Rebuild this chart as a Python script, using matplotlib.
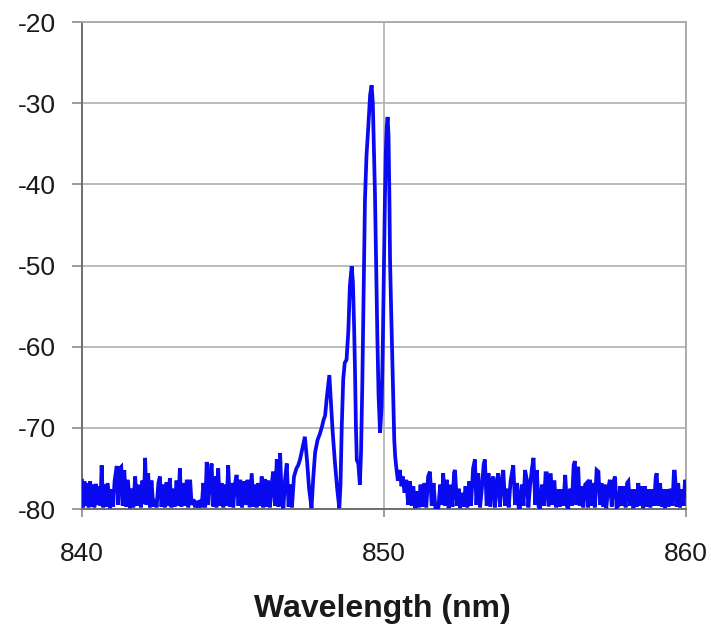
import matplotlib
matplotlib.use("Agg")
import matplotlib.pyplot as plt

# ---- data ----
# noise floor left of the emission lines
left_wl = [
    840.00, 840.04, 840.08, 840.13, 840.18, 840.22, 840.27, 840.32, 840.36, 840.41,
    840.46, 840.51, 840.56, 840.61, 840.65, 840.70, 840.75, 840.80, 840.85, 840.93,
    840.98, 841.03, 841.08, 841.15, 841.20, 841.25, 841.30, 841.35, 841.40, 841.46,
    841.52, 841.59, 841.64, 841.70, 841.76, 841.82, 841.88, 841.95, 842.00, 842.05,
    842.09, 842.14, 842.19, 842.25, 842.30, 842.36, 842.42, 842.47, 842.53, 842.58,
    842.63, 842.69, 842.74, 842.80, 842.85, 842.91, 842.96, 843.02, 843.07, 843.13,
    843.19, 843.24, 843.29, 843.35, 843.41, 843.47, 843.52, 843.58, 843.63, 843.69,
    843.75, 843.80, 843.86, 843.91, 843.96, 844.02, 844.08, 844.13, 844.18, 844.24,
    844.29, 844.35, 844.40, 844.45, 844.51, 844.56, 844.62, 844.68, 844.73, 844.79,
    844.84, 844.90, 844.95, 845.01, 845.06, 845.12, 845.18, 845.24, 845.30, 845.36,
    845.42, 845.48, 845.55, 845.62, 845.68, 845.72, 845.78, 845.84, 845.90, 845.95,
    846.00, 846.05, 846.10, 846.16, 846.22, 846.28, 846.33, 846.39, 846.45, 846.50,
    846.56, 846.62, 846.67, 846.72, 846.78, 846.84, 846.89, 846.95,
]
left_db = [
    -76.5, -79.8, -76.6, -79.6, -76.8, -79.8, -76.6, -79.7, -77.0, -79.8,
    -76.9, -79.5, -77.2, -79.6, -74.6, -79.8, -77.0, -79.7, -76.8, -79.9,
    -77.6, -79.7, -76.5, -74.7, -79.5, -75.0, -74.8, -79.6, -75.2, -79.7,
    -76.4, -79.9, -77.5, -79.8, -76.0, -79.6, -77.0, -79.8, -76.5, -79.4,
    -73.7, -79.5, -75.6, -79.8, -76.5, -79.7, -78.8, -79.8, -76.8, -76.0,
    -79.7, -77.0, -79.8, -76.7, -79.6, -76.2, -79.8, -77.5, -79.7, -76.5,
    -79.6, -75.0, -79.7, -76.8, -79.6, -76.4, -79.8, -76.4, -79.5, -78.8,
    -79.8, -79.0, -79.8, -78.9, -79.8, -76.8, -79.8, -74.2, -79.5, -76.5,
    -74.4, -79.7, -76.0, -79.8, -75.0, -79.6, -76.8, -79.8, -77.0, -79.6,
    -74.6, -79.7, -76.8, -79.8, -77.0, -75.8, -79.6, -76.4, -79.8, -76.6,
    -79.5, -76.4, -79.8, -75.6, -79.7, -77.0, -79.8, -76.8, -79.6, -76.0,
    -79.8, -76.3, -79.7, -76.5, -79.8, -77.0, -75.4, -79.6, -73.9, -79.7,
    -73.1, -79.5, -79.9, -76.5, -74.4, -79.7, -77.0, -79.8,
]

# emission lines (multimode spectrum)
peak_wl = [
    847.02, 847.10, 847.16, 847.22, 847.30, 847.38, 847.45, 847.52, 847.60, 847.66,
    847.72, 847.80, 847.88, 847.95, 848.00, 848.05, 848.10, 848.16, 848.19, 848.23,
    848.30, 848.38, 848.45, 848.52, 848.56, 848.60, 848.65, 848.70, 848.76, 848.82,
    848.87, 848.93, 848.97, 849.01, 849.04, 849.07, 849.10, 849.15, 849.20, 849.24,
    849.28, 849.33, 849.37, 849.42, 849.48, 849.54, 849.59, 849.63, 849.67, 849.70,
    849.74, 849.78, 849.82, 849.87, 849.92, 849.96, 850.00, 850.03, 850.06, 850.09,
    850.12, 850.15, 850.18, 850.20, 850.24, 850.28, 850.31, 850.34, 850.37,
]
peak_db = [
    -76.0, -75.0, -74.6, -73.9, -72.5, -71.1, -74.0, -77.5, -79.9, -76.0,
    -73.0, -71.5, -70.7, -69.8, -69.0, -68.5, -66.5, -64.5, -63.5, -66.0,
    -70.5, -74.5, -77.5, -79.9, -77.0, -70.0, -64.0, -62.0, -61.6, -58.0,
    -52.5, -50.1, -52.0, -57.5, -63.0, -69.8, -74.0, -74.4, -77.0, -73.0,
    -65.0, -52.0, -41.9, -36.5, -32.9, -29.0, -27.8, -30.0, -36.0, -41.0,
    -50.0, -58.8, -66.0, -70.6, -67.5, -60.0, -50.0, -41.9, -36.0, -32.9,
    -31.7, -34.0, -42.0, -49.3, -56.0, -62.0, -67.0, -71.5, -73.5,
]

# noise floor right of the emission lines
right_wl = [
    850.41, 850.46, 850.52, 850.58, 850.62, 850.68, 850.74, 850.80, 850.86, 850.92,
    850.97, 851.03, 851.09, 851.15, 851.21, 851.27, 851.33, 851.40, 851.46, 851.52,
    851.58, 851.64, 851.70, 851.80, 851.86, 851.92, 851.96, 852.02, 852.08, 852.14,
    852.20, 852.27, 852.32, 852.35, 852.42, 852.48, 852.52, 852.58, 852.64, 852.70,
    852.76, 852.82, 852.88, 852.95, 853.01, 853.06, 853.12, 853.18, 853.24, 853.30,
    853.34, 853.40, 853.46, 853.52, 853.57, 853.62, 853.67, 853.73, 853.78, 853.84,
    853.90, 853.95, 854.01, 854.07, 854.13, 854.19, 854.24, 854.28, 854.34, 854.40,
    854.46, 854.50, 854.56, 854.62, 854.67, 854.73, 854.78, 854.84, 854.90, 854.95,
    855.01, 855.06, 855.12, 855.17, 855.23, 855.30, 855.35, 855.39, 855.45, 855.52,
    855.58, 855.64, 855.70, 855.76, 855.82, 855.88, 855.94, 856.00, 856.06, 856.10,
    856.16, 856.22, 856.28, 856.32, 856.37, 856.43, 856.48, 856.54, 856.60, 856.66,
    856.71, 856.76, 856.82, 856.88, 856.93, 856.98, 857.04, 857.10, 857.15, 857.20,
    857.26, 857.31, 857.36, 857.42, 857.48, 857.54, 857.60, 857.65, 857.70, 857.76,
    857.82, 857.88, 857.94, 858.00, 858.05, 858.09, 858.15, 858.20, 858.26, 858.32,
    858.37, 858.42, 858.48, 858.53, 858.58, 858.64, 858.70, 858.76, 858.82, 858.88,
    858.94, 859.00, 859.03, 859.08, 859.14, 859.20, 859.25, 859.30, 859.36, 859.42,
    859.48, 859.55, 859.60, 859.63, 859.69, 859.74, 859.80, 859.86, 859.92, 859.97,
    860.00,
]
right_db = [
    -75.0, -76.5, -75.2, -77.2, -76.0, -78.0, -76.4, -79.5, -76.6, -79.6,
    -77.2, -79.9, -77.8, -79.8, -77.0, -79.7, -76.8, -79.8, -76.0, -75.4,
    -79.6, -76.8, -79.8, -79.9, -77.0, -79.5, -75.6, -79.6, -76.4, -79.9,
    -77.0, -79.7, -75.5, -75.2, -79.6, -77.5, -79.9, -78.0, -79.7, -77.2,
    -79.8, -76.6, -79.6, -75.0, -73.9, -79.5, -75.6, -79.8, -77.5, -74.5,
    -73.9, -79.6, -75.6, -79.7, -76.5, -76.0, -79.8, -77.0, -75.6, -79.7,
    -76.5, -75.2, -79.6, -77.5, -79.8, -76.6, -75.5, -74.6, -79.5, -76.8,
    -79.8, -79.9, -77.0, -79.6, -75.2, -76.4, -79.8, -77.0, -75.0, -73.7,
    -79.5, -75.2, -79.7, -79.9, -77.0, -79.6, -75.6, -75.6, -79.7, -75.6,
    -79.5, -76.5, -79.8, -77.6, -79.7, -77.6, -79.6, -75.8, -79.7, -79.9,
    -77.5, -79.6, -74.6, -74.1, -79.5, -74.8, -79.6, -77.2, -79.8, -77.0,
    -76.8, -79.8, -76.4, -79.6, -76.8, -79.8, -75.2, -75.4, -79.5, -76.8,
    -79.7, -77.0, -79.9, -77.5, -76.4, -79.7, -76.6, -76.0, -79.8, -79.6,
    -77.2, -79.6, -77.2, -79.8, -76.8, -76.6, -79.6, -77.6, -79.9, -77.6,
    -79.7, -76.8, -79.6, -77.2, -79.9, -77.2, -79.7, -77.6, -79.8, -77.6,
    -79.6, -76.0, -75.6, -79.6, -76.8, -79.7, -77.6, -79.9, -77.6, -79.7,
    -77.5, -79.6, -75.4, -75.4, -79.7, -76.8, -79.8, -77.6, -79.6, -76.4,
    -77.8,
]

x_ticks = [840, 850, 860]
y_ticks = [-80, -70, -60, -50, -40, -30, -20]
x_label = "Wavelength (nm)"

wavelength_nm = left_wl + peak_wl + right_wl
power_dbm = left_db + peak_db + right_db

# ---- figure ----
plt.rcParams['font.family'] = ['Liberation Sans', 'DejaVu Sans']
fig = plt.figure(figsize=(7.11, 6.26), dpi=100)
ax = fig.add_axes([82/711, 1 - 509/626, (686 - 82)/711, (509 - 22)/626])

ax.plot(wavelength_nm, power_dbm, color='#0a0af0', linewidth=2.7,
        solid_joinstyle='miter', clip_on=True, zorder=3)

ax.set_xlim(840, 860)
ax.set_ylim(-80, -20)
ax.set_xticks(x_ticks)
ax.set_yticks(y_ticks)
ax.set_xticklabels([str(t) for t in x_ticks])
ax.set_yticklabels([str(t) for t in y_ticks])

ax.grid(True, color='#b4b4b4', linewidth=1.3, zorder=1)
ax.set_axisbelow(True)

for side in ['left', 'bottom']:
    ax.spines[side].set_color('#6e6e6e')
    ax.spines[side].set_linewidth(1.4)
for side in ['top', 'right']:
    ax.spines[side].set_color('#a8a8a8')
    ax.spines[side].set_linewidth(1.3)

ax.tick_params(axis='y', length=7, width=1.2, color='#8a8a8a', pad=12,
               labelsize=19, labelcolor='#1a1a1a')
ax.tick_params(axis='x', length=6, width=1.2, color='#8a8a8a', pad=18,
               labelsize=19, labelcolor='#1a1a1a')

fig.text(382/711, 1 - 617/626, x_label, ha='center', va='baseline',
         fontsize=23, fontweight='bold', color='#1a1a1a')

fig.savefig('out.png', dpi=100, facecolor='white')
